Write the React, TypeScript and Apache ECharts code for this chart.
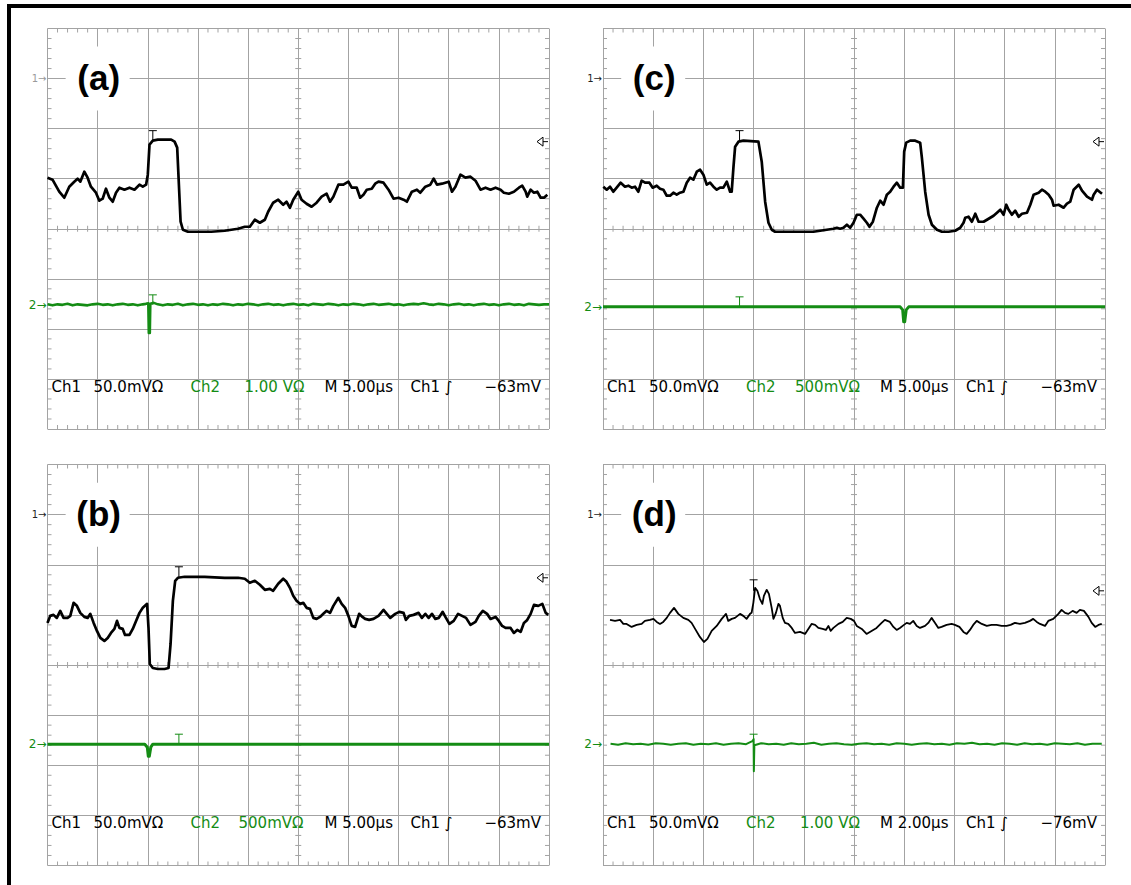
import { useEffect, useRef } from "react";
import * as echarts from "echarts";

// ---- Data (time in µs, Ch1 in mV, Ch2 in V) ----
const ch1A: [number, number][] = [[0,-99],[0.5,-101],[1.17,-113],[1.67,-119],[2.17,-108],[2.67,-103],[3,-100],[3.27,-103],[3.67,-93],[4,-99],[4.33,-108],[4.83,-114],[5.17,-122],[5.5,-120],[5.83,-110],[6.17,-119],[6.5,-123],[6.83,-114],[7.17,-109],[7.67,-111],[8.17,-109],[8.67,-111],[9.17,-106],[9.5,-108],[9.83,-106],[10,-96],[10.17,-66],[10.5,-62],[11,-61],[12.33,-61],[12.67,-63],[12.93,-69],[13.1,-106],[13.27,-143],[13.5,-151],[14,-153],[15,-153],[16.33,-153],[17.67,-152],[19,-150],[19.67,-148],[20.17,-148],[20.67,-141],[21.17,-144],[21.67,-141],[22,-133],[22.5,-124],[23,-121],[23.5,-126],[23.83,-123],[24.17,-129],[24.5,-121],[25,-113],[25.33,-121],[25.83,-125],[26.33,-128],[26.83,-124],[27.33,-118],[27.83,-115],[28.17,-123],[28.5,-118],[29,-106],[29.5,-106],[30,-103],[30.33,-109],[30.83,-109],[31.17,-119],[31.5,-116],[31.83,-111],[32.33,-110],[32.67,-105],[33,-103],[33.5,-104],[34,-111],[34.5,-120],[35,-119],[35.5,-121],[35.83,-123],[36.33,-113],[36.83,-111],[37.17,-114],[37.67,-108],[38.17,-106],[38.5,-100],[38.83,-106],[39.33,-105],[40,-103],[40.33,-113],[40.67,-108],[41.17,-96],[41.67,-99],[42.17,-98],[42.67,-102],[43.17,-111],[43.67,-109],[44.17,-111],[44.67,-109],[45.17,-111],[45.5,-114],[46,-115],[46.5,-113],[47,-109],[47.33,-107],[47.67,-113],[47.83,-118],[48.17,-111],[48.5,-114],[48.83,-113],[49.17,-119],[49.5,-119],[49.83,-116]];

const ch2A: [number, number][] = [[0,0.01],[0.5,-0.01],[1,0.01],[1.5,0],[2,0.02],[2.5,-0.01],[3,0.01],[3.5,0],[4,-0.01],[4.5,0.01],[5,0.02],[5.5,0],[6,0.01],[6.5,-0.01],[7,0.01],[7.5,0.02],[8,0],[8.5,0.01],[9,-0.01],[9.5,0.01],[9.8,0.02],[10.05,0.03],[10.1,-0.56],[10.2,-0.56],[10.25,0.02],[10.6,0.04],[11,0.01],[11.5,-0.01],[12,0.01],[12.5,0],[13,0.02],[13.5,-0.01],[14,0.01],[14.5,0.02],[15,0],[15.5,0.01],[16,-0.01],[16.5,0.01],[17,0],[17.5,0.02],[18,0.01],[18.5,-0.01],[19,0.01],[19.5,0],[20,0.02],[20.5,0.01],[21,-0.01],[21.5,0.01],[22,0.02],[22.5,0],[23,0.01],[23.5,-0.01],[24,0.01],[24.5,0.02],[25,0],[25.5,0.01],[26,-0.01],[26.5,0.02],[27,0.01],[27.5,0],[28,0.02],[28.5,0.01],[29,-0.01],[29.5,0.01],[30,0],[30.5,0.02],[31,0.01],[31.5,-0.01],[32,0.01],[32.5,0.02],[33,0],[33.5,0.01],[34,0.02],[34.5,0],[35,0.01],[35.5,-0.01],[36,0.01],[36.5,0.02],[37,0.01],[37.5,0.03],[38,0.01],[38.5,0],[39,0.02],[39.5,0.01],[40,-0.01],[40.5,0.01],[41,0.02],[41.5,0],[42,0.01],[42.5,-0.01],[43,0.01],[43.5,0.02],[44,0],[44.5,0.01],[45,-0.01],[45.5,0.01],[46,0.02],[46.5,0],[47,0.01],[47.5,-0.01],[48,0.02],[48.5,0.01],[49,0],[49.5,0.01],[50,0.01]];

const ch1B: [number, number][] = [[0,-108],[0.27,-101],[0.6,-100],[0.93,-103],[1.27,-96],[1.6,-103],[2,-103],[2.27,-101],[2.6,-88],[2.93,-91],[3.27,-98],[3.67,-102],[4,-103],[4.27,-99],[4.6,-108],[4.93,-116],[5.27,-123],[5.67,-126],[6,-123],[6.33,-118],[6.67,-114],[6.93,-106],[7.17,-113],[7.5,-114],[7.73,-120],[8.17,-120],[8.5,-114],[8.83,-106],[9.17,-98],[9.5,-93],[9.93,-89],[10.07,-113],[10.2,-149],[10.5,-153],[11,-154],[11.67,-154],[12.07,-153],[12.27,-129],[12.5,-86],[12.73,-66],[13,-63],[13.67,-62],[15.67,-62],[17.67,-63],[19,-63],[19.67,-64],[20.17,-68],[20.67,-66],[21.17,-70],[21.67,-75],[22.17,-74],[22.5,-76],[23,-69],[23.5,-64],[23.83,-67],[24.17,-73],[24.5,-81],[24.83,-86],[25.17,-89],[25.5,-88],[25.83,-93],[26.17,-94],[26.5,-103],[26.83,-104],[27.17,-102],[27.5,-99],[27.83,-96],[28.17,-98],[28.5,-91],[29,-83],[29.33,-89],[29.67,-93],[30,-101],[30.33,-111],[30.67,-112],[31.07,-99],[31.4,-102],[31.67,-104],[32.07,-105],[32.5,-104],[33,-101],[33.5,-95],[33.83,-99],[34.17,-103],[34.67,-99],[35.07,-97],[35.5,-98],[35.73,-105],[36.07,-101],[36.5,-100],[37,-98],[37.33,-103],[37.67,-99],[38,-103],[38.33,-99],[38.67,-104],[39,-103],[39.4,-97],[39.67,-102],[40.07,-109],[40.5,-106],[40.93,-99],[41.33,-101],[41.73,-103],[42.17,-110],[42.67,-107],[43,-101],[43.4,-96],[43.83,-99],[44.17,-104],[44.67,-102],[45,-106],[45.33,-111],[45.67,-113],[46.17,-113],[46.5,-118],[46.83,-115],[47.17,-117],[47.5,-108],[47.83,-105],[48.17,-99],[48.5,-90],[48.93,-91],[49.33,-89],[49.67,-98],[49.93,-100]];

const ch2B: [number, number][] = [[0,0],[9.7,0],[9.95,-0.03],[10.05,-0.12],[10.15,-0.12],[10.3,-0.03],[10.5,0],[50,0]];

const ch1C: [number, number][] = [[0.03,-108],[0.37,-111],[0.7,-108],[1.03,-113],[1.36,-109],[1.76,-104],[2.19,-108],[2.52,-107],[2.86,-109],[3.19,-108],[3.52,-113],[3.85,-102],[4.19,-104],[4.62,-104],[4.95,-109],[5.35,-107],[5.68,-110],[6.01,-111],[6.35,-117],[6.68,-117],[7.01,-114],[7.34,-116],[7.67,-114],[8.01,-113],[8.34,-104],[8.67,-99],[9,-101],[9.34,-93],[9.67,-91],[10,-96],[10.33,-106],[10.66,-104],[11,-108],[11.33,-111],[11.66,-109],[11.99,-109],[12.33,-103],[12.66,-113],[12.82,-113],[12.99,-89],[13.16,-68],[13.49,-63],[13.99,-62],[15.48,-63],[15.81,-83],[16.15,-123],[16.48,-144],[16.81,-151],[17.14,-153],[18.31,-153],[19.63,-153],[20.3,-153],[20.96,-153],[21.63,-152],[22.29,-151],[22.96,-150],[23.29,-149],[23.62,-150],[23.95,-149],[24.29,-146],[24.62,-149],[24.95,-144],[25.28,-136],[25.61,-136],[25.95,-140],[26.28,-144],[26.54,-148],[26.88,-143],[27.28,-129],[27.61,-122],[27.94,-126],[28.27,-116],[28.6,-113],[28.94,-108],[29.27,-104],[29.6,-109],[29.87,-109],[30,-73],[30.2,-64],[30.6,-62],[31.1,-62],[31.59,-64],[31.76,-79],[32.09,-113],[32.43,-136],[32.76,-146],[33.26,-151],[33.75,-153],[34.42,-153],[35.08,-152],[35.58,-149],[35.91,-144],[36.08,-139],[36.41,-138],[36.74,-143],[37.08,-135],[37.41,-143],[37.91,-143],[38.41,-140],[38.9,-137],[39.24,-134],[39.57,-131],[39.9,-136],[40.17,-126],[40.4,-131],[40.73,-136],[41.06,-132],[41.4,-138],[41.73,-135],[42.23,-134],[42.56,-126],[42.89,-116],[43.39,-114],[43.72,-111],[44.05,-113],[44.39,-116],[44.72,-121],[44.88,-127],[45.38,-126],[45.88,-129],[46.21,-125],[46.54,-123],[46.88,-111],[47.38,-106],[47.71,-112],[48.21,-118],[48.7,-121],[48.87,-116],[49.2,-111],[49.7,-115]];

const ch2C: [number, number][] = [[0,0],[29.6,0],[29.85,-0.03],[29.95,-0.15],[30.05,-0.15],[30.2,-0.03],[30.45,0],[50,0]];

const ch1D: [number, number][] = [[0.28,-105],[0.48,-106],[0.68,-105],[0.81,-109],[0.94,-109],[1.14,-112],[1.34,-110],[1.54,-109],[1.67,-106],[1.87,-105],[2.01,-104],[2.14,-107],[2.27,-109],[2.4,-107],[2.54,-103],[2.67,-98],[2.83,-93],[3,-99],[3.2,-103],[3.4,-105],[3.53,-108],[3.67,-114],[3.86,-122],[4.02,-127],[4.16,-124],[4.33,-116],[4.53,-111],[4.73,-104],[4.9,-99],[4.99,-106],[5.13,-104],[5.26,-103],[5.46,-99],[5.59,-101],[5.72,-104],[5.86,-99],[5.92,-98],[5.99,-88],[6.06,-73],[6.15,-76],[6.25,-84],[6.35,-89],[6.41,-81],[6.52,-75],[6.61,-79],[6.72,-93],[6.79,-104],[6.89,-98],[6.99,-89],[7.05,-91],[7.16,-103],[7.25,-108],[7.38,-109],[7.52,-113],[7.65,-118],[7.85,-117],[8.05,-119],[8.18,-114],[8.31,-109],[8.45,-110],[8.58,-113],[8.75,-114],[8.88,-115],[8.98,-111],[9.07,-116],[9.18,-113],[9.38,-109],[9.55,-107],[9.71,-103],[9.87,-104],[10,-106],[10.11,-111],[10.31,-114],[10.5,-119],[10.7,-116],[10.9,-113],[11.1,-108],[11.23,-105],[11.43,-107],[11.57,-112],[11.7,-115],[11.83,-113],[11.99,-110],[12.1,-108],[12.23,-109],[12.36,-106],[12.5,-111],[12.63,-113],[12.83,-111],[12.96,-108],[13.09,-103],[13.23,-108],[13.36,-113],[13.49,-112],[13.69,-110],[13.89,-109],[14.02,-110],[14.2,-112],[14.36,-117],[14.49,-119],[14.62,-115],[14.75,-110],[14.89,-106],[15.09,-109],[15.29,-111],[15.48,-110],[15.68,-110],[15.88,-111],[16.08,-111],[16.24,-110],[16.41,-108],[16.61,-109],[16.81,-108],[17.01,-106],[17.14,-104],[17.28,-107],[17.41,-109],[17.61,-111],[17.74,-106],[17.94,-104],[18.14,-99],[18.27,-95],[18.41,-98],[18.54,-99],[18.71,-96],[18.87,-98],[19,-95],[19.16,-96],[19.34,-102],[19.47,-108],[19.61,-112],[19.74,-110],[19.87,-109]];

const ch2D: [number, number][] = [[0.3,0.01],[0.6,-0.01],[0.9,0.02],[1.2,0],[1.5,0.01],[1.8,-0.01],[2.1,0.02],[2.4,0.01],[2.7,-0.01],[3,0.01],[3.3,0.02],[3.6,-0.01],[3.9,0.01],[4.2,0],[4.5,0.02],[4.8,-0.01],[5.1,0.01],[5.4,0.02],[5.7,0],[5.95,0.06],[6,0.1],[6.01,-0.54],[6.03,-0.02],[6.3,0.02],[6.6,0],[6.9,0.01],[7.2,-0.01],[7.5,0.02],[7.8,0],[8.1,0.01],[8.4,0.03],[8.7,-0.01],[9,0.01],[9.3,0.02],[9.6,0],[9.9,-0.01],[10.2,0.01],[10.5,0.02],[10.8,0],[11.1,0.01],[11.4,-0.01],[11.7,0.02],[12,0.01],[12.3,-0.01],[12.6,0.01],[12.9,0.02],[13.2,0],[13.5,0.01],[13.8,-0.01],[14.1,0.02],[14.4,0.01],[14.7,0.03],[15,0],[15.3,0.01],[15.6,-0.01],[15.9,0.02],[16.2,0.01],[16.5,-0.01],[16.8,0.02],[17.1,0],[17.4,0.01],[17.7,-0.01],[18,0.02],[18.3,0.01],[18.6,0],[18.9,0.02],[19.2,-0.01],[19.5,0.01],[19.87,0.01]];

const LABELS = ["(a)", "(b)", "(c)", "(d)"];
const CH2_SCALE_TEXT = ["1.00 VΩ", "500mVΩ", "500mVΩ", "1.00 VΩ"];
const CH2_V_PER_DIV = [1, 0.5, 0.5, 1];
const TIMEBASE_TEXT = ["M 5.00µs", "M 5.00µs", "M 5.00µs", "M 2.00µs"];
const TIME_SPAN_US = [50, 50, 50, 20];
const TRIG_LEVEL_MV = [-63, -63, -63, -76];
const TRIG_TEXT = ["−63mV", "−63mV", "−63mV", "−76mV"];
const TRIG_TIME_US = [10.5, 13.1, 13.6, 6.0];
const CH1_DATA = [ch1A, ch1B, ch1C, ch1D];
const CH2_DATA = [ch2A, ch2B, ch2C, ch2D];

// ---- Layout / style (not data) ----
const LAYOUT = [
  { left: 47.5, top: 28.5, width: 501.5, height: 400.5, ch2Ground: -1.52, ch1W: 2.7, ch2W: 2.6, m1: "#9a9a9a", ch2Dx: 197 },
  { left: 47.5, top: 464.5, width: 501.5, height: 401, ch2Ground: -1.58, ch1W: 2.7, ch2W: 3, m1: "#222", ch2Dx: 191 },
  { left: 603, top: 28.5, width: 502, height: 400.5, ch2Ground: -1.56, ch1W: 2.7, ch2W: 3, m1: "#222", ch2Dx: 192 },
  { left: 603, top: 464.5, width: 502, height: 401, ch2Ground: -1.58, ch1W: 1.8, ch2W: 2, m1: "#222", ch2Dx: 197 },
];

const GRID_COLOR = "#a3a3a3";
const GREEN = "#148c14";
const FONT = '"DejaVu Sans", Verdana, sans-serif';

export default function App() {
  const ref = useRef<HTMLDivElement>(null);
  useEffect(() => {
    if (!ref.current) return;
    const chart = echarts.init(ref.current, undefined, { renderer: "svg" });
    const grid: any[] = [];
    const xAxis: any[] = [];
    const yAxis: any[] = [];
    const series: any[] = [];
    const graphic: any[] = [];

    LAYOUT.forEach((p, i) => {
      const tMax = TIME_SPAN_US[i];
      const g = p.ch2Ground;
      const s = CH2_V_PER_DIV[i];
      grid.push({ left: p.left, top: p.top, width: p.width, height: p.height, containLabel: false, show: false });
      xAxis.push({
        gridIndex: i, type: "value", min: 0, max: tMax, interval: tMax / 10,
        axisLabel: { show: false }, axisTick: { show: false }, axisLine: { show: false },
        splitLine: { show: true, lineStyle: { color: GRID_COLOR, width: 1 } },
      });
      yAxis.push({
        gridIndex: i, type: "value", min: -350, max: 50, interval: 50,
        axisLabel: { show: false }, axisTick: { show: false }, axisLine: { show: false },
        splitLine: { show: true, lineStyle: { color: GRID_COLOR, width: 1 } },
      });
      yAxis.push({ gridIndex: i, type: "value", min: (-4 - g) * s, max: (4 - g) * s, show: false, splitLine: { show: false } });

      const trigLevel = TRIG_LEVEL_MV[i];
      const trigT = TRIG_TIME_US[i];
      series.push({
        type: "custom", xAxisIndex: i, yAxisIndex: 2 * i, data: [[0, 0]], silent: true, clip: false, z: 1,
        renderItem: (_params: any, api: any) => {
          const [x0, y0] = api.coord([0, 50]);
          const [x1, y1] = api.coord([tMax, -350]);
          const cx = (x0 + x1) / 2;
          const cy = (y0 + y1) / 2;
          const L = (a: number, b: number, c: number, d: number, color = GRID_COLOR, w = 1) => ({
            type: "line", shape: { x1: a, y1: b, x2: c, y2: d }, style: { stroke: color, lineWidth: w },
          });
          const ch: any[] = [];
          for (let k = 1; k < 50; k++) {
            if (k % 5 === 0) continue;
            const x = x0 + ((x1 - x0) * k) / 50;
            ch.push(L(x, y0, x, y0 + 4), L(x, y1 - 4, x, y1), L(x, cy - 3, x, cy + 3));
          }
          for (let k = 1; k < 40; k++) {
            if (k % 5 === 0) continue;
            const y = y0 + ((y1 - y0) * k) / 40;
            ch.push(L(x0, y, x0 + 4, y), L(x1 - 4, y, x1, y), L(cx - 3, y, cx + 3, y));
          }
          const ty = api.coord([0, trigLevel])[1];
          ch.push({
            type: "polygon",
            shape: { points: [[x1 - 12, ty], [x1 - 6, ty - 4.5], [x1 - 6, ty + 4.5]] },
            style: { fill: "#fff", stroke: "#000", lineWidth: 1 },
          });
          ch.push(L(x1 - 6, ty, x1 - 1, ty, "#000", 1));
          const [tx, tly] = api.coord([trigT, trigLevel]);
          ch.push(L(tx, tly - 11, tx, tly, "#000"), L(tx - 4, tly - 11, tx + 4, tly - 11, "#000"));
          const gy = api.coord([0, (g - 3) * 50])[1];
          ch.push(L(tx, gy - 10, tx, gy, GREEN), L(tx - 4, gy - 10, tx + 4, gy - 10, GREEN));
          return { type: "group", children: ch };
        },
      });
      series.push({
        type: "line", xAxisIndex: i, yAxisIndex: 2 * i, data: CH1_DATA[i], symbol: "none", silent: true, z: 3,
        lineStyle: { color: "#000", width: p.ch1W, join: "round" },
      });
      series.push({
        type: "line", xAxisIndex: i, yAxisIndex: 2 * i + 1, data: CH2_DATA[i], symbol: "none", silent: true, z: 3,
        lineStyle: { color: GREEN, width: p.ch2W, join: "round" },
      });

      const lx = p.left + p.width / 10;
      const ly = p.top + p.height / 8;
      graphic.push({ type: "rect", z: 100, shape: { x: lx - 32, y: ly - 32, width: 64, height: 64 }, style: { fill: "#fff" } });
      graphic.push({
        type: "text", z: 101, x: lx + 1, y: ly - 1,
        style: { text: LABELS[i], font: 'bold 35px "Liberation Sans", Arial, sans-serif', fill: "#000", align: "center", verticalAlign: "middle" },
      });
      graphic.push({
        type: "text", z: 101, x: p.left - 1, y: ly,
        style: { text: "1→", font: `10px ${FONT}`, fill: p.m1, align: "right", verticalAlign: "middle" },
      });
      graphic.push({
        type: "text", z: 101, x: p.left - 1, y: p.top + p.height / 2 - (g * p.height) / 8,
        style: { text: "2→", font: `12px ${FONT}`, fill: GREEN, align: "right", verticalAlign: "middle" },
      });
      const ry = p.top + 358.5;
      const tokens: [string, number, string][] = [
        ["Ch1", 4, "#000"],
        ["50.0mVΩ", 46, "#000"],
        ["Ch2", 143, GREEN],
        [CH2_SCALE_TEXT[i], p.ch2Dx, GREEN],
        [TIMEBASE_TEXT[i], 277, "#000"],
        ["Ch1 ∫", 363, "#000"],
      ];
      tokens.forEach(([t, dx, c]) => {
        graphic.push({
          type: "text", z: 101, x: p.left + dx, y: ry,
          style: { text: t, font: `15px ${FONT}`, fill: c, align: "left", verticalAlign: "middle" },
        });
      });
      graphic.push({
        type: "text", z: 101, x: p.left + p.width - 8, y: ry,
        style: { text: TRIG_TEXT[i], font: `15px ${FONT}`, fill: "#000", align: "right", verticalAlign: "middle" },
      });
    });

    graphic.push({ type: "line", z: 100, shape: { x1: 7, y1: 6, x2: 1131, y2: 6 }, style: { stroke: "#000", lineWidth: 4 } });
    graphic.push({ type: "line", z: 100, shape: { x1: 9, y1: 4, x2: 9, y2: 885 }, style: { stroke: "#000", lineWidth: 4 } });

    chart.setOption({
      animation: false,
      backgroundColor: "#fff",
      grid, xAxis, yAxis, series, graphic,
    });
    return () => chart.dispose();
  }, []);
  return <div ref={ref} style={{ position: "absolute", left: 0, top: 0, width: 1131, height: 885 }} />;
}
